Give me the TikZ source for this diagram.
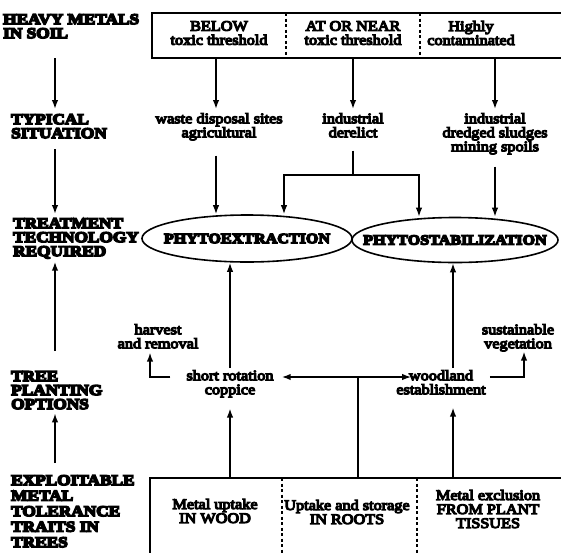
\documentclass[tikz,border=0pt]{standalone}
\usepackage{fontspec}
\setmainfont{Liberation Serif}
% body text: slightly widened and thickened serif
\newfontfamily\labfont{Liberation Serif}[FakeStretch=1.12, FakeBold=8]
% row headings and technology names: heavy, widened serif
\newfontfamily\capfont{Liberation Serif}[FakeStretch=1.15, BoldFeatures={FakeBold=10}]
\usetikzlibrary{arrows.meta, shapes.geometric}

\tikzset{
  heading/.style={anchor=north west, inner sep=0pt, align=left,
    font=\capfont\bfseries\fontsize{15}{14}\selectfont},
  txt/.style={inner sep=0pt, align=center,
    font=\labfont\fontsize{14.5}{14}\selectfont},
  lane/.style={line width=1.6pt},
  arr/.style={line width=1.6pt, -{Latex[length=9pt,width=6.5pt]}},
  arrs/.style={line width=1.6pt, {Latex[length=9pt,width=6.5pt]}-{Latex[length=9pt,width=6.5pt]}},
  frame/.style={line width=1.4pt},
  divider/.style={line width=1.3pt, dash pattern=on 3pt off 2.5pt},
  tech/.style={ellipse, draw, line width=1.6pt, inner sep=0pt},
  techlabel/.style={inner sep=0pt, font=\capfont\bfseries\fontsize{14}{14}\selectfont}
}

\begin{document}
\begin{tikzpicture}[x=1pt, y=-1pt]
\useasboundingbox (0,0) rectangle (561,552);

% ---- row headings (left column) ----
\node[heading] (heavy)   at (3,14)   {HEAVY METALS\\IN SOIL};
\node[heading] (typical) at (11,114) {TYPICAL\\SITUATION};
\node[heading] (treat)   at (13,218) {TREATMENT\\TECHNOLOGY\\REQUIRED};
\node[heading] (tree)    at (11,371) {TREE\\PLANTING\\OPTIONS};
\node[heading, font=\capfont\bfseries\fontsize{15}{15.5}\selectfont]
               (exploit) at (11,475) {EXPLOITABLE\\METAL\\TOLERANCE\\TRAITS IN\\TREES};

\coordinate (colx) at (55,0);
\draw[arr, shorten <=20pt, shorten >=5pt] (heavy.south -| colx) -- (typical.north -| colx);
\draw[arr, shorten <=11pt, shorten >=4pt] (typical.south -| colx) -- (treat.north -| colx);
\draw[arr, shorten <=20pt, shorten >=3pt] (tree.north -| colx) -- (treat.south -| colx);
\draw[arr, shorten <=12pt, shorten >=4pt] (exploit.north -| colx) -- (tree.south -| colx);

% ---- soil contamination box ----
\coordinate (tl) at (152,13);
\coordinate (tr) at (561,13);
\coordinate (bl) at (152,58);
\coordinate (br) at (561,58);
\draw[frame] (tr) -- (tl) -- (bl) -- (br);
\draw[divider] (286,13) -- (286,58);
\draw[divider] (420,13) -- (420,58);

\node[txt] (t1) at (219,33) {BELOW\\toxic threshold};
\node[txt] (t2) at (353,33) {AT OR NEAR\\toxic threshold};
\node[txt] (t3) at (471,33) {Highly\\contaminated};

% ---- typical situations ----
\node[txt, anchor=north] (s1) at (219,113) {waste disposal sites\\agricultural};
\node[txt, anchor=north] (s2) at (353,113) {industrial\\derelict};
\node[txt, anchor=north] (s3) at (495,113) {industrial\\dredged sludges\\mining spoils};

\draw[arr, shorten >=4pt] ([xshift=-3pt]s1.north |- bl) -- ([xshift=-3pt]s1.north);
\draw[arr, shorten >=4pt] (s2.north |- bl) -- (s2.north);
\draw[arr, shorten >=4pt] (s3.north |- bl) -- (s3.north);

% ---- treatment technologies ----
\node[tech, minimum width=210pt, minimum height=47pt] (e1) at (247,238.5) {};
\node[techlabel] (e1t) at (e1.center) {PHYTOEXTRACTION};
\node[tech, minimum width=206pt, minimum height=45pt] (e2) at (455,240) {};
\node[techlabel] (e2t) at (e2.center) {PHYTOSTABILIZATION};

\draw[arr, shorten <=15pt] ([xshift=-3pt]s1.south) -- ([xshift=-3pt]s1.south |- e1.north);
\coordinate (split) at (353,175);
\coordinate (j1) at (284,175);
\coordinate (j2) at (419,175);
\draw[lane, shorten <=13pt] (s2.south) -- (split);
\draw[arr] (split) -- (j1) -- (j1 |- e1.north);
\draw[arr] (split) -- (j2) -- (j2 |- e2.north);
\draw[arr, shorten <=12pt] (s3.south) -- (s3.south |- e2.north);

% ---- tree planting options ----
\node[txt, anchor=north] (cop)  at (230,370) {short rotation\\coppice};
\node[txt, anchor=north] (wood) at (441,370) {woodland\\establishment};
\node[txt, anchor=north] (harv) at (158,324) {harvest\\and removal};
\node[txt, anchor=north] (sus)  at (518,324) {sustainable\\vegetation};

\coordinate (rowy) at (0,377);
\coordinate (mid) at (358,377);
\draw[arr, shorten <=2pt] (cop.north) -- (cop.north |- e1.south);
\draw[arr, shorten <=2pt] ([xshift=12pt]wood.north) -- ([xshift=12pt]wood.north |- e2.south);
\draw[arrs] ([xshift=8pt]cop.east |- rowy) -- ([xshift=15pt]wood.west |- rowy);
\draw[arr, shorten >=4pt] ([xshift=-16pt]cop.west |- rowy) -| ([xshift=-8pt]harv.south);
\draw[arr] ([xshift=4pt]wood.east |- rowy) -| ([xshift=6pt]sus.south);

% ---- tolerance traits box ----
\coordinate (boxtop) at (150,478);
\draw[frame] (561,478) -- (boxtop) -- (150,560);
\draw[divider] (282,478) -- (282,560);
\draw[divider] (417,478) -- (417,560);

\node[txt] (b1) at (215,511) {Metal uptake\\IN WOOD};
\node[txt] (b2) at (347,512) {Uptake and storage\\IN ROOTS};
\node[txt] (b3) at (488,509) {Metal exclusion\\FROM PLANT\\TISSUES};

\draw[lane] (mid) -- (mid |- boxtop);
\draw[arr, shorten >=11pt] (cop.south |- boxtop) -- (cop.south);
\draw[arr, shorten >=13pt] ([xshift=12pt]wood.south |- boxtop) -- ([xshift=12pt]wood.south);
\end{tikzpicture}
\end{document}
